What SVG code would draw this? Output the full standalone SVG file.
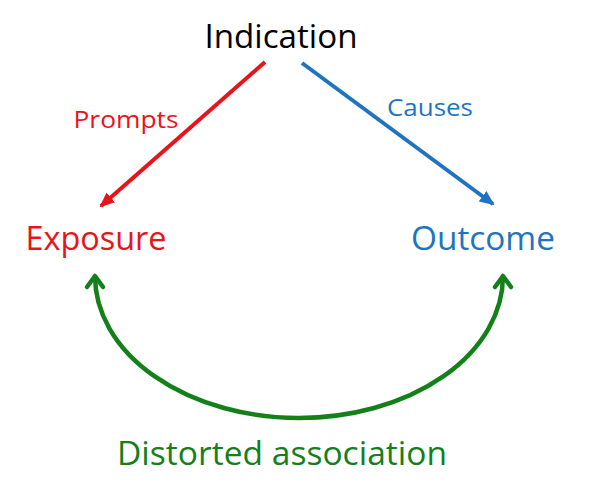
<svg xmlns="http://www.w3.org/2000/svg" width="600" height="500" viewBox="0 0 600 500">
<style>
text{font-family:"Open Sans","Liberation Sans",sans-serif;}
.red{fill:#e8141c}
.blue{fill:#1e74c0}
.green{fill:#13801a}
.big{font-size:32px}
.small{font-size:23px}
</style>
<defs>
<marker id="ahRed" markerWidth="15" markerHeight="13" refX="13" refY="6.5" orient="auto" markerUnits="userSpaceOnUse" viewBox="0 0 15 13">
<path d="M0,0 L15,6.5 L0,13 z" fill="#e8141c"/>
</marker>
<marker id="ahBlue" markerWidth="15" markerHeight="13" refX="13" refY="6.5" orient="auto" markerUnits="userSpaceOnUse" viewBox="0 0 15 13">
<path d="M0,0 L15,6.5 L0,13 z" fill="#1e74c0"/>
</marker>
</defs>
<rect width="600" height="500" fill="#ffffff"/>
<g id="connectors">
<line x1="265" y1="62" x2="101" y2="206" stroke="#e8141c" stroke-width="4" marker-end="url(#ahRed)"/>
<line x1="302" y1="63" x2="493" y2="204" stroke="#1e74c0" stroke-width="4" marker-end="url(#ahBlue)"/>
<path d="M95,276 A204 142 0 0 0 503,276" fill="none" stroke="#13801a" stroke-width="4.5"/>
<path d="M87,287 L95,276 L103,287" fill="none" stroke="#13801a" stroke-width="4.5" stroke-linecap="round" stroke-linejoin="round"/>
<path d="M495,287 L503,276 L511,287" fill="none" stroke="#13801a" stroke-width="4.5" stroke-linecap="round" stroke-linejoin="round"/>
<text x="126" y="128" class="small red" textLength="105" lengthAdjust="spacingAndGlyphs" text-anchor="middle">Prompts</text>
<text x="430" y="116" class="small blue" textLength="86" lengthAdjust="spacingAndGlyphs" text-anchor="middle">Causes</text>
</g>
<g id="indication">
<text x="281" y="48" class="big" fill="#000" textLength="153" lengthAdjust="spacingAndGlyphs" text-anchor="middle">Indication</text>
</g>
<g id="exposure">
<text x="96" y="250" class="big red" textLength="141" lengthAdjust="spacingAndGlyphs" text-anchor="middle">Exposure</text>
</g>
<g id="outcome">
<text x="483" y="250" class="big blue" textLength="144" lengthAdjust="spacingAndGlyphs" text-anchor="middle">Outcome</text>
</g>
<g id="distorted">
<text x="282" y="465" class="big green" textLength="330" lengthAdjust="spacingAndGlyphs" text-anchor="middle">Distorted association</text>
</g>
</svg>
